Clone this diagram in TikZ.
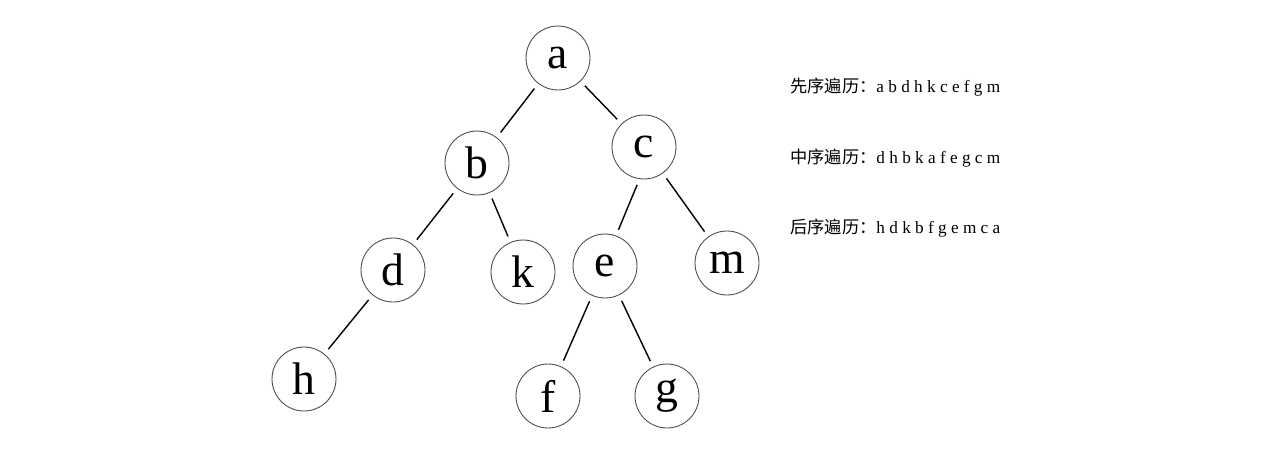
\documentclass[tikz,border=0pt]{standalone}
\usepackage{fontspec}
\setmainfont{Liberation Serif}
\newfontfamily\cjk{Noto Sans CJK SC}
\usetikzlibrary{positioning}

\begin{document}
\begin{tikzpicture}[x=0.02cm,y=-0.02cm,
    vert/.style={circle,draw=black!70,line width=0.5pt,minimum size=1.28cm,inner sep=0pt,font=\fontsize{26}{26}\selectfont},
    branch/.style={line width=0.8pt,shorten <=3.5pt,shorten >=3.5pt},
    order/.style={anchor=west,inner sep=0pt,font=\fontsize{9.8}{11}\selectfont}]
    \useasboundingbox (0,0) rectangle (1278,464);
    % vertices
    \node[vert] (a) at (558,58) {a};
    \node[vert] (b) at (477,163) {b};
    \node[vert] (c) at (644,147) {c};
    \node[vert] (d) at (393,270) {d};
    \node[vert] (k) at (523,272) {k};
    \node[vert] (e) at (605,266) {e};
    \node[vert] (m) at (727,263) {m};
    \node[vert] (h) at (304,379) {h};
    \node[vert] (f) at (548,396) {f};
    \node[vert] (g) at (667,396) {g};
    % branches
    \draw[branch] (a) -- (b);
    \draw[branch] (a) -- (c);
    \draw[branch] (b) -- (d);
    \draw[branch] (b) -- (k);
    \draw[branch] (c.262) -- (e.70);
    \draw[branch] (c) -- (m);
    \draw[branch] (d) -- (h);
    \draw[branch] (e) -- (f);
    \draw[branch] (e) -- (g);
    % traversals
    \node[order] (pre) at (790,87) {{\cjk 先序遍历：}a b d h k c e f g m};
    \node[order] (in) at (790,158) {{\cjk 中序遍历：}d h b k a f e g c m};
    \node[order] (post) at (790,228) {{\cjk 后序遍历：}h d k b f g e m c a};
\end{tikzpicture}
\end{document}
